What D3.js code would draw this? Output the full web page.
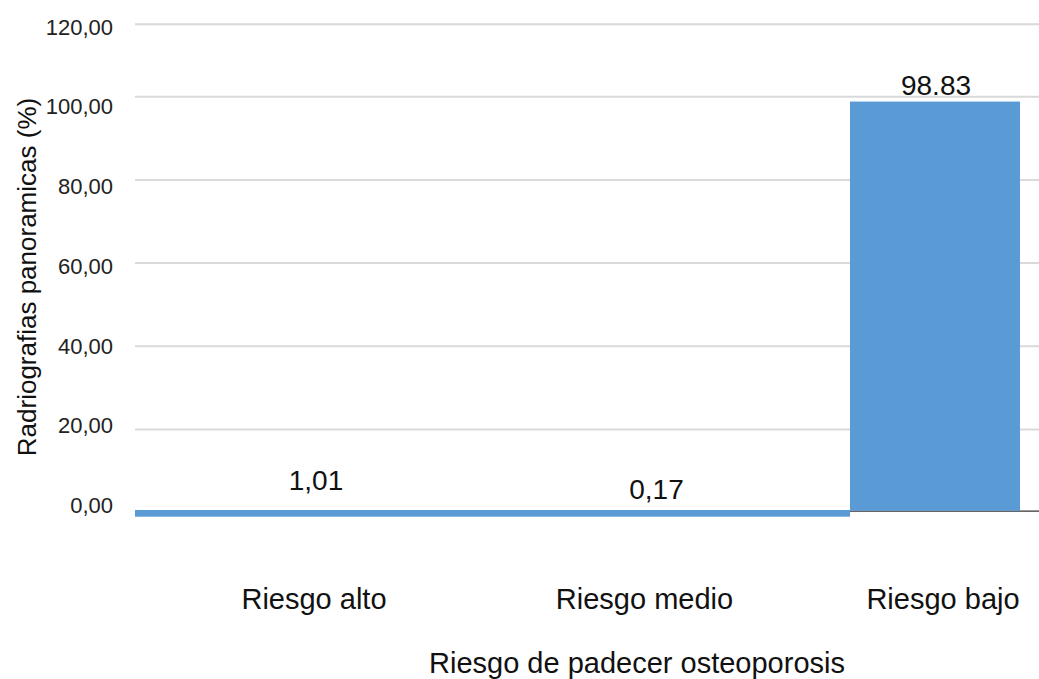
<!DOCTYPE html>
<meta charset="utf-8">
<script src="https://cdn.jsdelivr.net/npm/d3@7"></script>
<style>
  body { margin: 0; background: #fff; }
  text { font-family: "Liberation Sans", Arial, sans-serif; fill: #111; }
</style>
<div id="chart"></div>
<script>
// data
var categories = ["Riesgo alto", "Riesgo medio", "Riesgo bajo"];
var values = [1.01, 0.17, 98.83];
var valueLabels = ["1,01", "0,17", "98.83"];
var yTicks = [0, 20, 40, 60, 80, 100, 120];
var yTitle = "Radriografias panoramicas (%)";
var xTitle = "Riesgo de padecer osteoporosis";

var W = 1039, H = 679;
var blue = "#5b9bd5";

var svg = d3.select("#chart").append("svg")
    .attr("width", W)
    .attr("height", H);

// the source image is a bit stretched, so the scales are piecewise
var y = d3.scaleLinear().domain([0, 100, 120]).range([512.6, 96.7, 24.3]);
var yLab = d3.scaleLinear().domain([0, 120]).range([505.5, 27]);
var x = d3.scaleLinear().domain([0, 2, 3]).range([135, 850, 1020]).interpolate(d3.interpolateRound);

// small nudges for the labels, as in the picture
var valNudge = [[2, -6], [-15, -1], [1, 5]];
var catNudge = [0, -27, 8];

// gridlines
svg.append("g").selectAll("line")
    .data(yTicks.filter(d => d > 0)).enter().append("line")
    .attr("x1", 135)
    .attr("x2", W)
    .attr("y1", d => y(d))
    .attr("y2", d => y(d))
    .attr("stroke", "#d9d9d9")
    .attr("stroke-width", 2);

// tick labels
svg.append("g").selectAll("text")
    .data(yTicks).enter().append("text")
    .attr("x", 113)
    .attr("y", d => yLab(d))
    .attr("dy", "0.35em")
    .attr("text-anchor", "end")
    .style("font-size", "22px")
    .style("fill", "#222")
    .text(d => d3.format(".2f")(d).replace(".", ","));

// baseline
var y0 = y(0);
svg.append("line")
    .attr("x1", x(0))
    .attr("x2", W)
    .attr("y1", y0 - 1.5)
    .attr("y2", y0 - 1.5)
    .attr("stroke", "#333")
    .attr("stroke-width", 1.3);

// bars (the tiny ones show up as a thin strip on the baseline)
var barTop = d => d < 5 ? y0 - 2.6 : y(d);
var barBottom = d => d < 5 ? y0 + 4.1 : y0 - 1.8;
svg.append("g").selectAll("rect")
    .data(values).enter().append("rect")
    .attr("x", (d, i) => x(i))
    .attr("width", (d, i) => x(i + 1) - x(i))
    .attr("y", d => barTop(d))
    .attr("height", d => barBottom(d) - barTop(d))
    .attr("fill", blue);

// value labels
svg.append("g").selectAll("text")
    .data(values).enter().append("text")
    .attr("x", (d, i) => (x(i) + x(i + 1)) / 2 + valNudge[i][0])
    .attr("y", d => y(d) - 12)
    .attr("dy", (d, i) => valNudge[i][1])
    .attr("text-anchor", "middle")
    .style("font-size", "28px")
    .text((d, i) => valueLabels[i]);

// category labels
svg.append("g").selectAll("text")
    .data(categories).enter().append("text")
    .attr("x", (d, i) => (x(i) + x(i + 1)) / 2 + catNudge[i])
    .attr("y", 609)
    .attr("text-anchor", "middle")
    .style("font-size", "29px")
    .text(d => d);

// axis titles
svg.append("text")
    .attr("x", 637)
    .attr("y", 673)
    .attr("text-anchor", "middle")
    .style("font-size", "29px")
    .text(xTitle);

svg.append("text")
    .attr("transform", "translate(36,277) rotate(-90)")
    .attr("text-anchor", "middle")
    .style("font-size", "26px")
    .text(yTitle);
</script>
